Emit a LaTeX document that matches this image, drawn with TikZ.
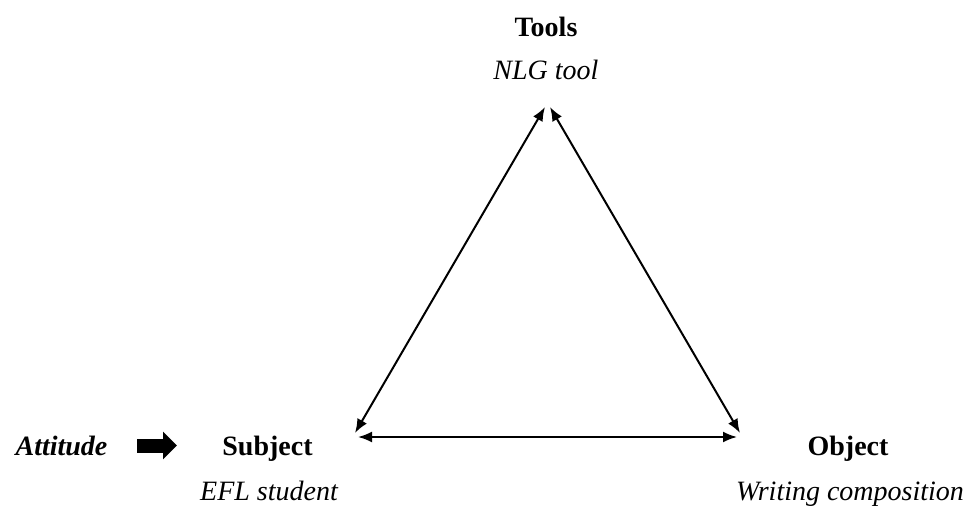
\documentclass[tikz,border=0pt]{standalone}
\usepackage{fontspec}
\setmainfont{Liberation Serif}
\usetikzlibrary{arrows.meta}
\begin{document}
\begin{tikzpicture}[x=1pt,y=1pt,
  bold/.style={inner sep=0pt, anchor=base, font=\fontsize{28}{34}\selectfont\bfseries},
  ital/.style={inner sep=0pt, anchor=base, font=\fontsize{28}{34}\selectfont\itshape},
  boldital/.style={inner sep=0pt, anchor=base, font=\fontsize{28}{34}\selectfont\bfseries\itshape},
  dbl/.style={line width=2pt, {Latex[length=14pt,width=11pt]}-{Latex[length=14pt,width=11pt]}},
  fat/.style={line width=14pt, -{Triangle[length=14pt,width=27pt]}}]
\useasboundingbox (0,0) rectangle (968,506);
\node[bold] (tools) at (546,469) {Tools};
\node[ital] (nlg) at (546,426) {NLG tool};
\node[boldital] (att) at (61.5,51) {Attitude};
\node[bold] (subj) at (267.5,51) {Subject};
\node[ital] (efl) at (269,6) {EFL student};
\node[bold] (obj) at (848,51) {Object};
\node[ital] (wc) at (850,6) {Writing composition};
\coordinate (tl) at (545,399);
\coordinate (tr) at (550,399);
\coordinate (bl) at (355,73);
\coordinate (br) at (740,73);
\coordinate (hl) at (358,69);
\coordinate (hr) at (737,69);
\coordinate (fa) at (137,60.5);
\coordinate (fb) at (177,60.5);
\draw[dbl] (tl) -- (bl);
\draw[dbl] (tr) -- (br);
\draw[dbl] (hl) -- (hr);
\draw[fat] (fa) -- (fb);
\end{tikzpicture}
\end{document}
